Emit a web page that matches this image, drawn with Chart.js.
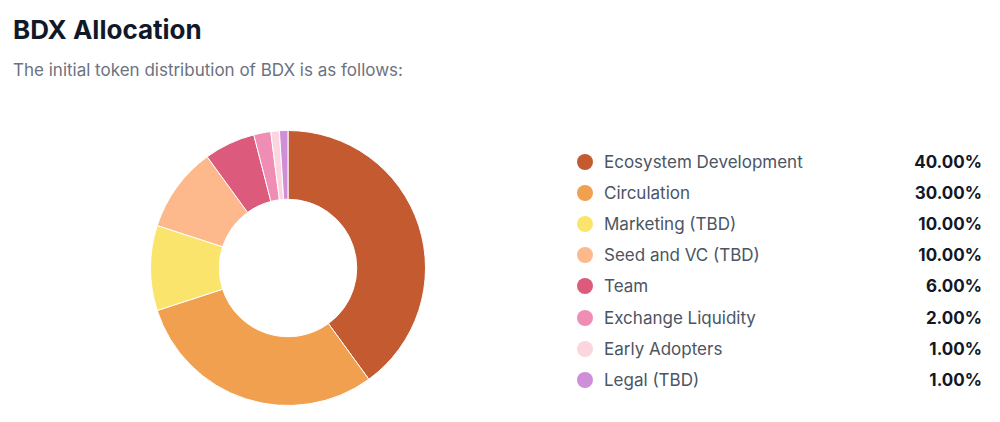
<!DOCTYPE html>
<html>
<head>
<meta charset="utf-8">
<script src="https://cdn.jsdelivr.net/npm/chart.js@4"></script>
<style>
  body { margin: 0; background: #fff; font-family: Inter, "Noto Sans", sans-serif; }
  .wrap { position: relative; width: 1000px; height: 422px; overflow: hidden; }
  h1 { position: absolute; left: 13px; top: 14px; margin: 0; font-size: 26px; font-weight: 700; color: #111827; }
  .sub { position: absolute; left: 13px; top: 60px; font-size: 17px; color: #6b7280; }
  .chart-box { position: absolute; left: 150px; top: 130px; width: 276px; height: 276px; }
  #legend { position: absolute; left: 577px; top: 146px; width: 405px; }
  .row { display: flex; align-items: center; height: 31.2px; font-size: 17px; color: #4b5563; }
  .dot { width: 16px; height: 16px; border-radius: 50%; margin-right: 11px; }
  .name { flex: 1; }
  .val { font-weight: 700; color: #111827; }
</style>
</head>
<body>
<div class="wrap">
  <h1>BDX Allocation</h1>
  <div class="sub">The initial token distribution of BDX is as follows:</div>
  <div class="chart-box"><canvas id="alloc"></canvas></div>
  <div id="legend"></div>
</div>
<script>
const labels = ['Ecosystem Development', 'Circulation', 'Marketing (TBD)', 'Seed and VC (TBD)', 'Team', 'Exchange Liquidity', 'Early Adopters', 'Legal (TBD)'];
const shares = [40, 30, 10, 10, 6, 2, 1, 1];
const colors = ['#c45a30', '#f0a04f', '#fbe46c', '#fdb98b', '#dc5b7d', '#f08db5', '#fcd5df', '#cf8fd8'];

new Chart(document.getElementById('alloc'), {
    type: 'doughnut',
    data: {
        labels: labels,
        datasets: [{
            data: shares,
            backgroundColor: colors,
            borderColor: '#ffffff',
            borderWidth: 1
        }]
    },
    options: {
        responsive: true,
        maintainAspectRatio: false,
        animation: false,
        cutout: '50%',
        plugins: { legend: { display: false }, tooltip: { enabled: false } }
    }
});

// HTML legend with percentages
const legend = document.getElementById('legend');
labels.forEach((name, i) => {
    const row = document.createElement('div');
    row.className = 'row';
    row.innerHTML = '<span class="dot" style="background:' + colors[i] + '"></span>' +
        '<span class="name">' + name + '</span>' +
        '<span class="val">' + shares[i].toFixed(2) + '%</span>';
    legend.appendChild(row);
});
</script>
</body>
</html>
